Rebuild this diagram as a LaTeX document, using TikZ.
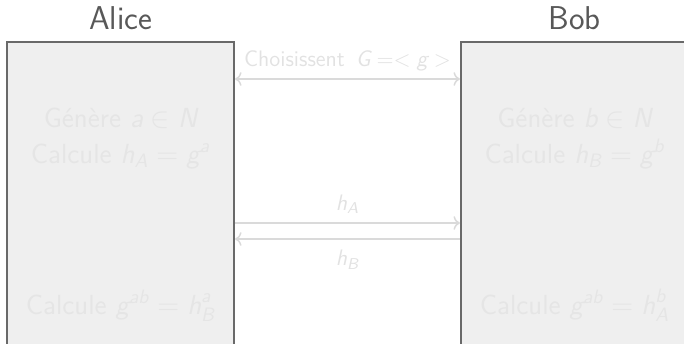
\documentclass[tikz,border=0pt]{standalone}
\usepackage{amsmath}
\usetikzlibrary{arrows.meta, positioning}
\renewcommand{\familydefault}{\sfdefault}
\newcommand{\mv}[1]{\text{\sffamily\slshape #1}}
\definecolor{boxfill}{RGB}{239,239,239}
\definecolor{boxline}{RGB}{105,105,105}
\definecolor{nametext}{RGB}{88,88,88}
\definecolor{fadedtext}{RGB}{229,229,229}
\definecolor{fadedarrow}{RGB}{218,218,218}
\definecolor{labeltext}{RGB}{226,226,226}

\begin{document}
\begin{tikzpicture}[
        x=0.5pt, y=-0.5pt,
        party/.style={rectangle, draw=boxline, fill=boxfill, line width=1pt,
                      minimum width=113.5pt, minimum height=159pt, inner sep=0pt},
        partyname/.style={anchor=base, text=nametext, font=\fontsize{16.5}{20}\selectfont},
        faded/.style={anchor=base, text=fadedtext, font=\fontsize{13.8}{16}\selectfont},
        msg/.style={line width=0.75pt, draw=fadedarrow},
        msglabel/.style={text=labeltext, font=\fontsize{11.2}{14}\selectfont},
    ]
    \useasboundingbox (0,0) rectangle (684,343);
    \clip (0,0) rectangle (684,343);

    % the two parties
    \node[party] (alice) at (120.5,201) {};
    \node[party] (bob) at (574.5,201) {};
    \node[partyname] (alicename) at (120.5,29) {Alice};
    \node[partyname] (bobname) at (574.5,29) {Bob};

    % what each side does
    \node[faded] (agen) at (120.5,127) {Génère $\mv{a} \in \mv{N}$};
    \node[faded] (acalc) at (120.5,163) {Calcule $\mv{h}_{\mv{A}} = \mv{g}^{\mv{a}}$};
    \node[faded] (akey) at (120.5,314) {Calcule $\mv{g}^{\mv{ab}} = \mv{h}_{\mv{B}}^{\mv{a}}$};
    \node[faded] (bgen) at (574.5,127) {Génère $\mv{b} \in \mv{N}$};
    \node[faded] (bcalc) at (574.5,163) {Calcule $\mv{h}_{\mv{B}} = \mv{g}^{\mv{b}}$};
    \node[faded] (bkey) at (574.5,314) {Calcule $\mv{g}^{\mv{ab}} = \mv{h}_{\mv{A}}^{\mv{b}}$};

    % exchanges
    \coordinate (choix) at (347.5,79);
    \coordinate (envoiA) at (347.5,223);
    \coordinate (envoiB) at (347.5,239);
    \draw[msg, <->] (alice.east |- choix) -- (bob.west |- choix)
        node[midway, above=1.5pt, inner sep=2pt, msglabel] {Choisissent\, $\mv{G} =< \mv{g} >$};
    \draw[msg, ->] (alice.east |- envoiA) -- (bob.west |- envoiA)
        node[midway, above=1pt, msglabel] {$\mv{h}_{\mv{A}}$};
    \draw[msg, ->] (bob.west |- envoiB) -- (alice.east |- envoiB)
        node[midway, below=2pt, msglabel] {$\mv{h}_{\mv{B}}$};
\end{tikzpicture}
\end{document}
